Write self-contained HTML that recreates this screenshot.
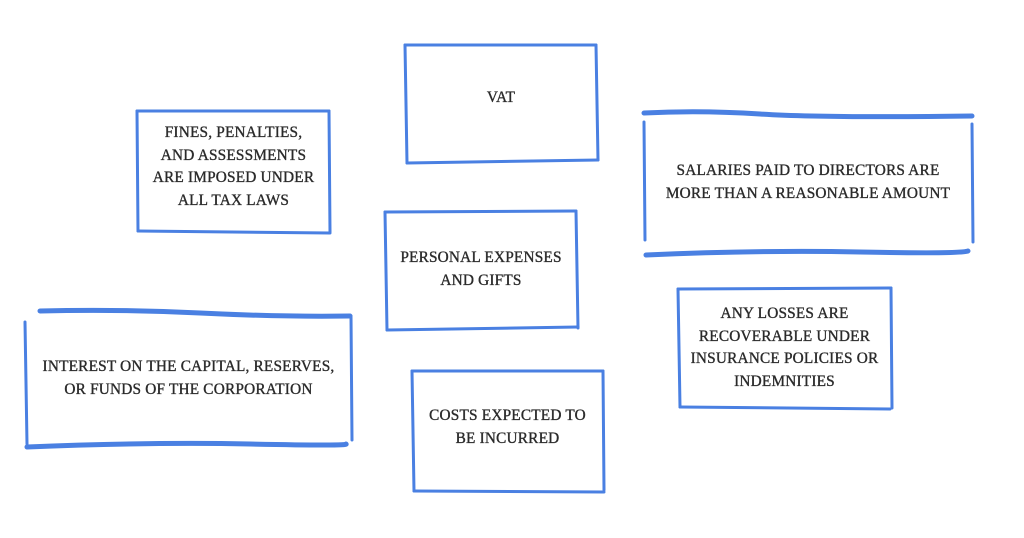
<!DOCTYPE html>
<html><head><meta charset="utf-8"><style>
body{margin:0;width:1024px;height:538px;background:#fff;position:relative;overflow:hidden}
svg{position:absolute;left:0;top:0}
.t{position:absolute;text-align:center;font-family:"Liberation Serif",serif;font-size:15.3px;line-height:22.5px;color:#2b2b2b;letter-spacing:0.2px;-webkit-text-stroke:0.35px #2b2b2b;white-space:nowrap}
</style></head><body>
<svg width="1024" height="538" stroke="#4a80e2" stroke-linecap="round" fill="none">
<g stroke-width="3"><path d="M405 45 L596 45"/><path d="M596 45 L598 160"/><path d="M407 163 L598 160"/><path d="M405 45 L407 163"/></g>
<g stroke-width="3"><path d="M137 111 L329 111"/><path d="M329 111 L330 232"/><path d="M138 231 L330 233"/><path d="M137 111 L138 231"/></g>
<path d="M644 113 Q700 110 760 114 T972 116" stroke-width="5"/><path d="M972 124 L973 242" stroke-width="3"/><path d="M646 255 Q760 250 860 252 T968 251" stroke-width="5"/><path d="M644 122 L645 240" stroke-width="3"/>
<g stroke-width="3"><path d="M385 212 L576 211"/><path d="M576 211 L578 328"/><path d="M387 330 L578 327"/><path d="M385 212 L387 330"/></g>
<path d="M40 311 Q120 309 200 313 T350 316" stroke-width="5"/><path d="M351 316 L352 440" stroke-width="3"/><path d="M27 447 Q150 442 250 444 T346 444" stroke-width="5"/><path d="M25 322 L27 444" stroke-width="3"/>
<g stroke-width="3"><path d="M678 289 L891 288"/><path d="M891 288 L892 408"/><path d="M680 407 L890 409"/><path d="M678 289 L680 407"/></g>
<g stroke-width="3"><path d="M412 371 L603 371"/><path d="M603 371 L604 490"/><path d="M414 491 L604 492"/><path d="M412 371 L414 491"/></g>
</svg>
<div class="t" style="left:404px;width:194px;top:87px">VAT</div>
<div class="t" style="left:136px;width:195px;top:122px">FINES, PENALTIES,<br>AND ASSESSMENTS<br>ARE IMPOSED UNDER<br>ALL TAX LAWS</div>
<div class="t" style="left:643px;width:330px;top:160px">SALARIES PAID TO DIRECTORS ARE<br>MORE THAN A REASONABLE AMOUNT</div>
<div class="t" style="left:384px;width:194px;top:247px">PERSONAL EXPENSES<br>AND GIFTS</div>
<div class="t" style="left:25px;width:327px;top:356px">INTEREST ON THE CAPITAL, RESERVES,<br>OR FUNDS OF THE CORPORATION</div>
<div class="t" style="left:677px;width:215px;top:303px">ANY LOSSES ARE<br>RECOVERABLE UNDER<br>INSURANCE POLICIES OR<br>INDEMNITIES</div>
<div class="t" style="left:411px;width:193px;top:405px">COSTS EXPECTED TO<br>BE INCURRED</div>
</body></html>
